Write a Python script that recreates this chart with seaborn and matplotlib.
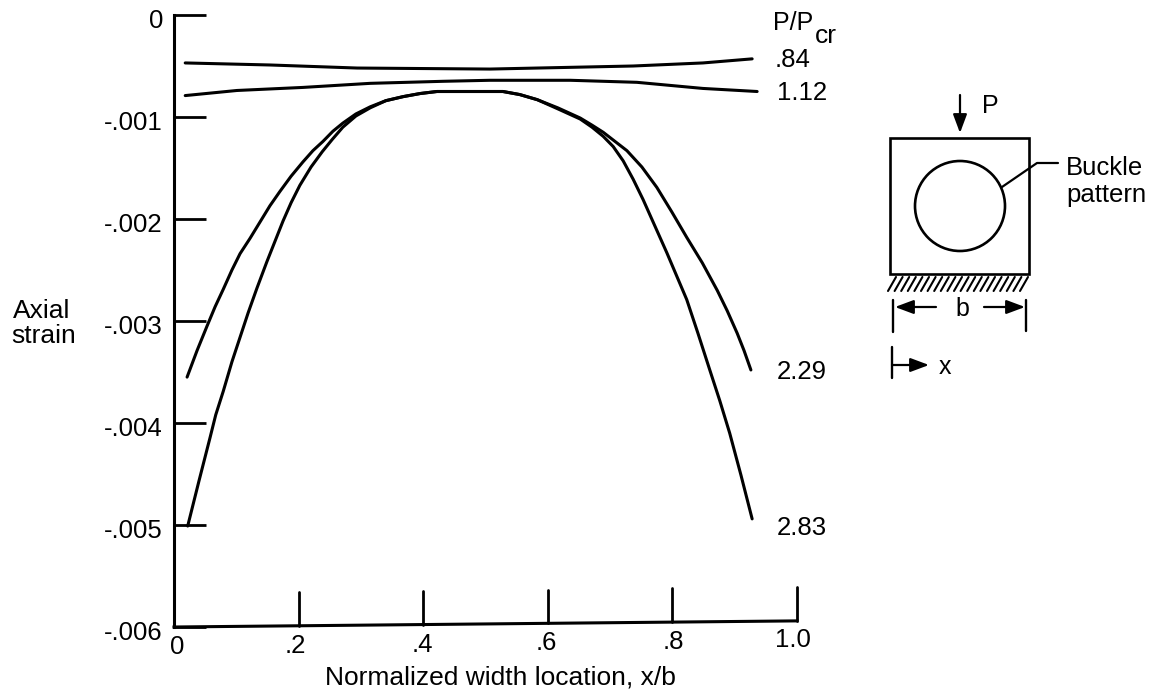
import pandas as pd
import matplotlib
matplotlib.use("Agg")
import numpy as np
import matplotlib.pyplot as plt
from matplotlib.patches import Circle, Rectangle
from matplotlib.transforms import ScaledTranslation
import seaborn as sns

sns.set_style("white")
plt.rcParams['font.family'] = ['Liberation Sans', 'DejaVu Sans']

# values
x_084 = [.018, .154, .294, .507, .583, .737, .849, .928]
y_084 = [-.00047, -.00049, -.00052, -.00053, -.00052, -.00050, -.00047, -.00043]
x_112 = [.018, .101, .207, .315, .432, .507, .636, .743, .849, .936]
y_112 = [-.00079, -.00074, -.00071, -.00067, -.00065, -.00064, -.00064, -.00066, -.00072, -.00075]
x_229 = [.021, .037, .053, .066, .079, .093, .106, .122, .138, .154, .170, .188, .207,
         .223, .239, .255, .271, .292, .315, .340, .368, .395, .422, .464, .507, .528,
         .555, .583, .616, .652, .671, .689, .708, .727, .751, .775, .799, .823, .848,
         .872, .888, .904, .915, .926]
y_229 = [-.00355, -.00329, -.00305, -.00286, -.00269, -.00250, -.00234, -.00219,
         -.00203, -.00187, -.00173, -.00158, -.00144, -.00133, -.00124, -.00114,
         -.00106, -.00097, -.00090, -.00084, -.00080, -.00077, -.00075, -.00075,
         -.00075, -.00075, -.00078, -.00083, -.00091, -.00101, -.00108, -.00115,
         -.00124, -.00133, -.00149, -.00169, -.00193, -.00218, -.00243, -.00270,
         -.00290, -.00312, -.00329, -.00348]
x_283 = [.022, .040, .058, .067, .079, .093, .106, .119, .133, .149, .162, .175, .188,
         .202, .220, .238, .254, .271, .292, .315, .340, .368, .395, .422, .464, .507,
         .528, .555, .583, .616, .652, .671, .689, .705, .721, .737, .753, .772, .791,
         .807, .823, .841, .860, .876, .892, .910, .928]
y_283 = [-.00501, -.00457, -.00414, -.00392, -.00369, -.00340, -.00316, -.00292,
         -.00268, -.00242, -.00222, -.00202, -.00184, -.00167, -.00149, -.00134,
         -.00122, -.00110, -.00099, -.00091, -.00084, -.00080, -.00077, -.00075,
         -.00075, -.00075, -.00075, -.00078, -.00083, -.00092, -.00102, -.00110,
         -.00119, -.00129, -.00143, -.00161, -.00181, -.00207, -.00233, -.00256,
         -.00279, -.00312, -.00348, -.00378, -.00410, -.00451, -.00494]
series = {'.84': (x_084, y_084), '1.12': (x_112, y_112),
          '2.29': (x_229, y_229), '2.83': (x_283, y_283)}

xticks = [0, .2, .4, .6, .8, 1.0]
xticklabels = ['0', '.2', '.4', '.6', '.8', '1.0']
yticks = [0, -.001, -.002, -.003, -.004, -.005, -.006]
yticklabels = ['0', '-.001', '-.002', '-.003', '-.004', '-.005', '-.006']

rows = []
for name, (xs, ys) in series.items():
    rows.append(pd.DataFrame({'x': xs, 'y': ys, 'ratio': name}))
df = pd.concat(rows, ignore_index=True)

W, H = 1154, 693
fig = plt.figure(figsize=(W / 100, H / 100), dpi=100)
ax = fig.add_axes([174 / W, 1 - 627 / H, 623 / W, 612 / H])

sns.lineplot(data=df, x='x', y='y', units='ratio', estimator=None, sort=False,
             color='black', linewidth=2.2, ax=ax)
ax.set_xlim(0, 1)
ax.set_ylim(-.006, 0)
ax.patch.set_alpha(0)
sns.despine(ax=ax, bottom=True)
ax.spines['left'].set_color('black')
ax.spines['left'].set_linewidth(2.2)
ax.set_xticks(xticks)
ax.set_xticklabels(xticklabels)
ax.set_yticks(yticks)
ax.set_yticklabels(yticklabels)
ax.tick_params(axis='y', direction='in', length=23, width=2, color='black',
               labelsize=18.5, labelcolor='black', left=True, pad=8)
ax.tick_params(axis='x', length=0, labelsize=18.5, labelcolor='black', pad=6)
ax.set_xlabel('')
ax.set_ylabel('')

# the scanned x axis leans up a little towards the right
lean = .00006
ax.plot([0, 1], [-.006, -.006 + lean], color='black', lw=2.2, clip_on=False,
        solid_capstyle='projecting')
for t in xticks[1:]:
    base = -.006 + lean * t
    ax.plot([t, t], [base, base + .00033], color='black', lw=2, clip_on=False)
label_dx = [3, -3, -1, -1, 1, -4]
for lab, t, dx in zip(ax.get_xticklabels(), xticks, label_dx):
    lab.set_transform(lab.get_transform() +
                      ScaledTranslation(dx / 100, 7 * t / 100, fig.dpi_scale_trans))
for lab in ax.get_yticklabels():
    lab.set_transform(lab.get_transform() +
                      ScaledTranslation(0, -3 / 100, fig.dpi_scale_trans))

# overlay in pixel units for the labels and the little sketch
ov = fig.add_axes([0, 0, 1, 1])
ov.set_xlim(0, W)
ov.set_ylim(H, 0)
ov.axis('off')
ov.patch.set_alpha(0)

def label(px, py, s, ha='left', size=18.5):
    ov.text(px, py, s, ha=ha, va='center', fontsize=size, color='black')

label(500, 677, 'Normalized width location, x/b', ha='center', size=19)
label(42, 311, 'Axial', ha='center', size=19)
label(44, 336, 'strain', ha='center', size=19)
label(773, 23, 'P/P', size=18)
label(815, 36, 'cr', size=19)
label(775, 60, '.84')
label(777, 93, '1.12')
label(777, 372, '2.29')
label(777, 528, '2.83')

# sketch
ov.add_patch(Rectangle((890, 138), 139, 136, fill=False, ec='black', lw=1.9))
ov.add_patch(Circle((960, 206), 45, fill=False, ec='black', lw=1.9))
ov.plot([1002, 1037, 1058], [187, 163, 163], color='black', lw=1.6)
for hx in np.arange(888, 1021, 6.6):
    ov.plot([hx, hx + 8], [291, 277], color='black', lw=1.5)

def arrow(x0, y0, x1, y1):
    ov.annotate('', xy=(x1, y1), xytext=(x0, y0),
                arrowprops=dict(arrowstyle='-|>,head_length=0.75,head_width=0.28',
                                color='black', lw=1.6, shrinkA=0, shrinkB=0,
                                mutation_scale=15))

arrow(960, 95, 960, 133)
arrow(936, 307, 895, 307)
arrow(984, 307, 1025, 307)
arrow(892, 365, 929, 365)
ov.plot([893, 893], [300, 332], color='black', lw=1.7)
ov.plot([1026, 1026], [300, 331], color='black', lw=1.7)
ov.plot([892, 892], [347, 378], color='black', lw=1.7)
label(982, 106, 'P', size=18)
label(1066, 168, 'Buckle', size=18.5)
label(1066, 195, 'pattern', size=18.5)
label(962, 309, 'b', ha='center', size=18)
label(939, 367, 'x', size=18)

fig.savefig('out.png', dpi=100, facecolor='white')
